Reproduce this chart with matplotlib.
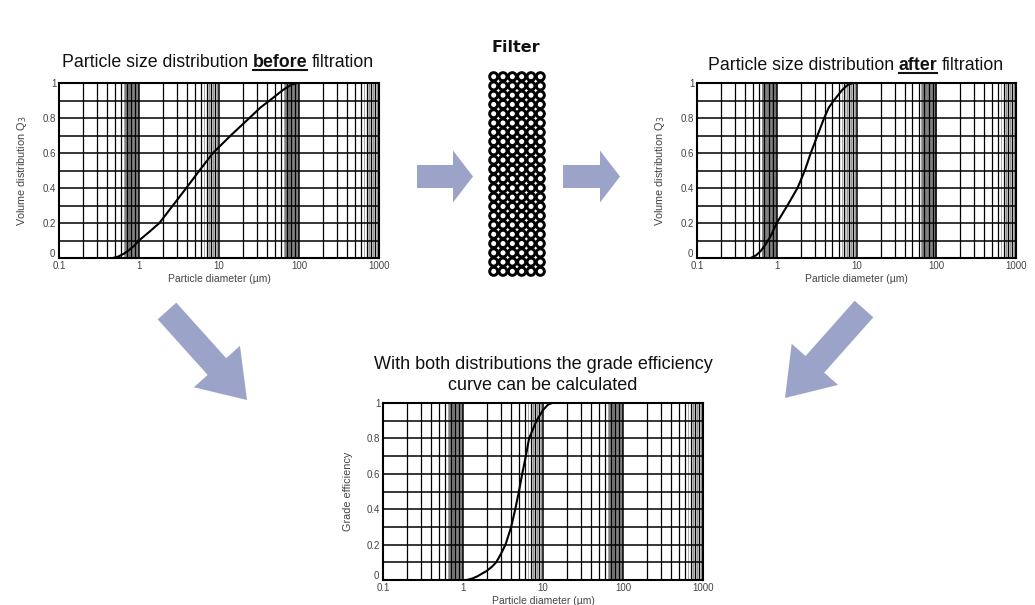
import numpy as np
import matplotlib
matplotlib.use("Agg")
from matplotlib import pyplot as plt
from matplotlib.patches import Polygon, Circle

plt.rcParams['font.family'] = ['Liberation Sans', 'DejaVu Sans']

# data
d_before = [0.47, 0.55, 0.65, 0.75, 0.87, 1.0, 1.35, 1.8, 2.65, 3.9, 5.7, 8.4, 14, 24, 33, 43, 63, 80, 95]
q_before = [0, 0.008, 0.025, 0.045, 0.07, 0.1, 0.15, 0.2, 0.3, 0.4, 0.5, 0.6, 0.7, 0.8, 0.86, 0.9, 0.96, 0.99, 1.0]

d_after = [0.47, 0.55, 0.63, 0.73, 0.85, 1.0, 1.36, 1.82, 2.25, 2.67, 3.24, 3.93, 4.5, 5.2, 6.6, 7.8, 9.0]
q_after = [0, 0.015, 0.04, 0.08, 0.13, 0.2, 0.3, 0.4, 0.5, 0.6, 0.7, 0.8, 0.86, 0.9, 0.96, 0.99, 1.0]

d_grade = [1.1, 1.3, 1.5, 1.96, 2.3, 2.6, 3.0, 3.4, 4.0, 4.5, 5.0, 5.5, 6.1, 6.7, 8.3, 10, 11.5, 13]
q_grade = [0, 0.008, 0.02, 0.05, 0.075, 0.1, 0.15, 0.2, 0.3, 0.4, 0.5, 0.6, 0.7, 0.8, 0.9, 0.96, 0.99, 1.0]

x_ticks = [0.1, 1, 10, 100, 1000]
x_labels = ["0.1", "1", "10", "100", "1000"]
y_ticks = [0.2, 0.4, 0.6, 0.8, 1]
y_labels = ["0.2", "0.4", "0.6", "0.8", "1"]

W, H = 1035, 605
ARROW = "#9ba3c9"

fig = plt.figure(figsize=(W / 100, H / 100), dpi=100)
fig.patch.set_facecolor("white")

# overlay in pixel coordinates for arrows, filter, titles
ov = fig.add_axes([0, 0, 1, 1], zorder=0)
ov.set_xlim(0, W)
ov.set_ylim(H, 0)
ov.axis("off")


def arrow_poly(x0, y0, x1, y1, sw, hw, hl):
    v = np.array([x1 - x0, y1 - y0], dtype=float)
    L = np.hypot(*v)
    u = v / L
    n = np.array([-u[1], u[0]])
    p0 = np.array([x0, y0])
    b = p0 + u * (L - hl)
    pts = [p0 + n * sw / 2, b + n * sw / 2, b + n * hw / 2, np.array([x1, y1]),
           b - n * hw / 2, b - n * sw / 2, p0 - n * sw / 2]
    return Polygon(pts, closed=True, facecolor=ARROW, edgecolor="none")


ov.add_patch(arrow_poly(417, 176.5, 473, 176.5, 23, 52, 20))
ov.add_patch(arrow_poly(563, 176.5, 620, 176.5, 23, 52, 20))
ov.add_patch(arrow_poly(167, 311, 247, 400, 25, 62, 45))
ov.add_patch(arrow_poly(864, 309, 785, 398, 25, 62, 45))

# filter: rows of rings
ncol, nrow = 6, 22
fx0, fx1, fy0, fy1 = 489, 545, 72, 276
cw = (fx1 - fx0) / ncol
ch = (fy1 - fy0) / nrow
for i in range(ncol):
    for j in range(nrow):
        ov.add_patch(Circle((fx0 + cw * (i + 0.5), fy0 + ch * (j + 0.5)), 4.0,
                            facecolor="white", edgecolor="black", lw=2.1))
ov.text(516, 47, "Filter", ha="center", va="center", fontsize=11.5,
        fontweight="bold", color="#111", family="DejaVu Sans")


def mixed_title(xc, y, parts, size):
    # parts: (text, emphasized); emphasized parts are bold and underlined
    r = fig.canvas.get_renderer()
    objs = []
    total = 0
    for txt, emph in parts:
        t = ov.text(0, y, txt, fontsize=size, va="baseline", ha="left",
                    fontweight="bold" if emph else "normal", color="#111")
        w = t.get_window_extent(r).width
        objs.append((t, w, emph))
        total += w
    a = ov.text(0, 0, "a a", fontsize=size)
    b = ov.text(0, 0, "aa", fontsize=size)
    sp = a.get_window_extent(r).width - b.get_window_extent(r).width
    a.remove()
    b.remove()
    total += sp * (len(parts) - 1)
    x = xc - total / 2
    for t, w, emph in objs:
        t.set_x(x)
        if emph:
            ov.plot([x, x + w], [y + 3, y + 3], color="#111", lw=1.5)
        x += w + sp


mixed_title(218, 67, [("Particle size distribution", False), ("before", True),
                      ("filtration", False)], 12.8)
mixed_title(856, 70, [("Particle size distribution", False), ("after", True),
                      ("filtration", False)], 12.8)
ov.text(543, 375, "With both distributions the grade efficiency\ncurve can be calculated",
        ha="center", va="center", fontsize=13, color="#111", linespacing=1.25)


def grid_chart(rect, d, q, ylabel):
    ax = fig.add_axes(rect, zorder=2)
    ax.set_xscale("log")
    ax.set_xlim(0.1, 1000)
    ax.set_ylim(0, 1)
    ax.patch.set_facecolor("white")
    for yv in np.arange(0.1, 1.0, 0.1):
        ax.axhline(yv, color="black", lw=1.1, zorder=1)
    for dec in [0.1, 1, 10, 100]:
        for m in range(2, 10):
            ax.axvline(m * dec, color="black", lw=0.9, zorder=1)
        if dec in (0.1, 10):
            ax.axvspan(6.5 * dec, 10 * dec, color="#a4a4a4", lw=0, zorder=0.5)
            dense = np.arange(6.6, 10, 0.2)
        else:
            ax.axvspan(7 * dec, 10 * dec, color="#d2d2d2", lw=0, zorder=0.5)
            dense = np.arange(6.5, 10, 0.5)
        for m in dense:
            ax.axvline(m * dec, color="#666666", lw=0.4, zorder=0.8)
        if dec > 0.1:
            ax.axvline(dec, color="black", lw=1.1, zorder=1)
    ax.plot(d, q, color="black", lw=1.5, zorder=3)
    ax.set_xticks(x_ticks)
    ax.set_xticklabels(x_labels)
    ax.set_xticks([], minor=True)
    ax.set_yticks(y_ticks)
    ax.set_yticklabels(y_labels)
    ax.tick_params(length=0, labelsize=7, labelcolor="#444", pad=2)
    # the zero label sits a little above the corner, as in the original
    ax.text(-0.012, 0.025, "0", transform=ax.transAxes, ha="right", va="center",
            fontsize=7, color="#444")
    for s in ax.spines.values():
        s.set_linewidth(1.5)
    ax.set_xlabel("Particle diameter (µm)", fontsize=7.5, color="#444", labelpad=2)
    ax.set_ylabel(ylabel, fontsize=7.8, color="#444", labelpad=10)
    return ax


grid_chart([59 / W, 1 - 258 / H, 320 / W, 175 / H], d_before, q_before,
           "Volume distribution Q$_3$")
grid_chart([697 / W, 1 - 258 / H, 319 / W, 175 / H], d_after, q_after,
           "Volume distribution Q$_3$")
grid_chart([383 / W, 1 - 580 / H, 320 / W, 177 / H], d_grade, q_grade,
           "Grade efficiency")

fig.savefig("out.png", dpi=100)
